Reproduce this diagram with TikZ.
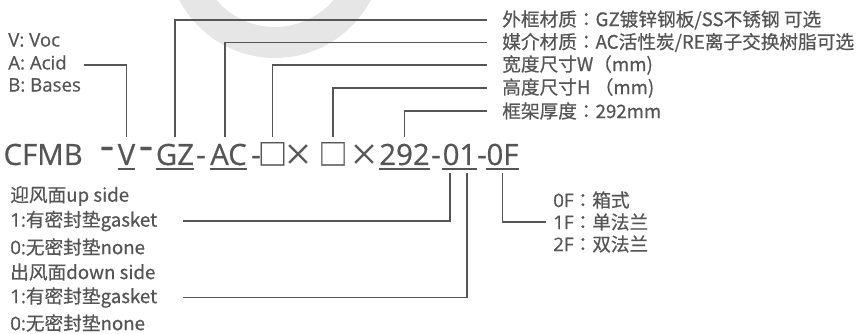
\documentclass[tikz,border=0pt]{standalone}
\usepackage{fontspec}
\setmainfont[FakeBold=0.6]{Open Sans}
\newfontfamily\cjk[FakeBold=0.6]{Noto Sans CJK SC}
\newfontfamily\cjkc[FakeBold=0.6]{Noto Sans CJK TC}
\definecolor{txt}{HTML}{555555}
\definecolor{ln}{HTML}{555555}
\definecolor{wm}{HTML}{E6E6E6}
\begin{document}
\begin{tikzpicture}[x=0.75pt,y=-0.75pt,
  lbl/.style={anchor=west,inner sep=0pt,text=txt,font=\fontsize{14pt}{16pt}\selectfont},
  code/.style={anchor=base,inner sep=0pt,text=txt,font=\fontsize{22pt}{26pt}\selectfont},
  conn/.style={draw=ln,line width=1.2pt},
  uline/.style={draw=ln,line width=1pt}]
\useasboundingbox (0,0) rectangle (857,334);
\begin{scope}
  \clip (0,0) rectangle (857,334);
  \fill[wm,even odd rule] (275,-50) circle[radius=108] (275,-50) circle[radius=77];
\end{scope}
\coordinate (top) at (0,137);
\coordinate (bot) at (0,173);
% code
\node[code,anchor=base east] (cfmb) at (83,165) {CFMB};
\node[code,xscale=1.5,yscale=1.4] (d1) at (107,159.5) {-};
\node[code] (v) at (126.5,165) {V};
\node[code,xscale=1.5,yscale=1.4] (d2) at (146,159.5) {-};
\node[code] (gz) at (175,165) {GZ};
\node[code] (h1) at (201,165) {-};
\node[code] (ac) at (228.5,165) {AC};
\node[code] (h2) at (256,165) {-};
\node[code] (b1) at (272.5,165) {\cjk{□}};
\node[code] (x1) at (298,165) {\cjk{×}};
\node[code] (b2) at (333,165) {\cjk{□}};
\node[code] (x2) at (364,165) {\cjk{×}};
\node[code] (th) at (404.5,165) {292};
\node[code] (h3) at (436,165) {-};
\node[code] (o1) at (459.5,165) {01};
\node[code] (h4) at (482,165) {-};
\node[code] (of) at (502.5,165) {0F};
% underlines
\foreach \n in {v,gz,ac,th,o1,of}
  \draw[uline] ([yshift=-3pt]\n.base west) -- ([yshift=-3pt]\n.base east);
% upper left labels
\node[lbl] (lv) at (8,40) {V: Voc};
\node[lbl] (la) at (8,62.5) {A: Acid};
\node[lbl] (lb) at (8,85) {B: Bases};
% right labels
\node[lbl] (r1) at (502,20) {\cjk{外框材质}\cjkc{：}GZ\cjk{镀锌钢板}/SS\cjk{不锈钢 可选}};
\node[lbl] (r2) at (502,42.5) {\cjk{媒介材质}\cjkc{：}AC\cjk{活性炭}/RE\cjk{离子交换树脂可选}};
\node[lbl] (r3) at (502,65) {\cjk{宽度尺寸}W\cjk{（}mm)};
\node[lbl] (r4) at (502,88) {\cjk{高度尺寸}H \cjk{（}mm)};
\node[lbl] (r5) at (502,111) {\cjk{框架厚度}\cjkc{：}292mm};
% bottom left labels
\node[lbl] (u0) at (10,196) {\cjk{迎风面}up side};
\node[lbl] (u1) at (10,221) {1:\cjk{有密封垫}gasket};
\node[lbl] (u2) at (10,247) {0:\cjk{无密封垫}none};
\node[lbl] (d0) at (10,272) {\cjk{出风面}down side};
\node[lbl] (dd1) at (10,297.5) {1:\cjk{有密封垫}gasket};
\node[lbl] (dd2) at (10,323) {0:\cjk{无密封垫}none};
% bottom right labels
\node[lbl] (f0) at (553,200) {0F\cjkc{：}\cjk{箱式}};
\node[lbl] (f1) at (553,222) {1F\cjkc{：}\cjk{单法兰}};
\node[lbl] (f2) at (553,244) {2F\cjkc{：}\cjk{双法兰}};
% connectors
\draw[conn] ([xshift=13pt,yshift=-2pt]la.east) -| (v |- top);
\draw[conn] ([xshift=-11.25pt]r1.west) -| (gz |- top);
\draw[conn] ([xshift=-11.25pt]r2.west) -| ([xshift=-2.5pt]ac.center |- top);
\draw[conn] ([xshift=-11.25pt]r3.west) -| (b1 |- top);
\draw[conn] ([xshift=-11.25pt]r4.west) -| (b2 |- top);
\draw[conn] ([xshift=-11.25pt]r5.west) -| (th |- top);
\draw[conn] ([xshift=19pt]u1.east) -| ([xshift=-7pt]o1.center |- bot);
\draw[conn] ([xshift=19pt]dd1.east) -| ([xshift=5.6pt]o1.center |- bot);
\draw[conn] ([xshift=-5.25pt]f1.west) -| (of |- bot);
\end{tikzpicture}
\end{document}
